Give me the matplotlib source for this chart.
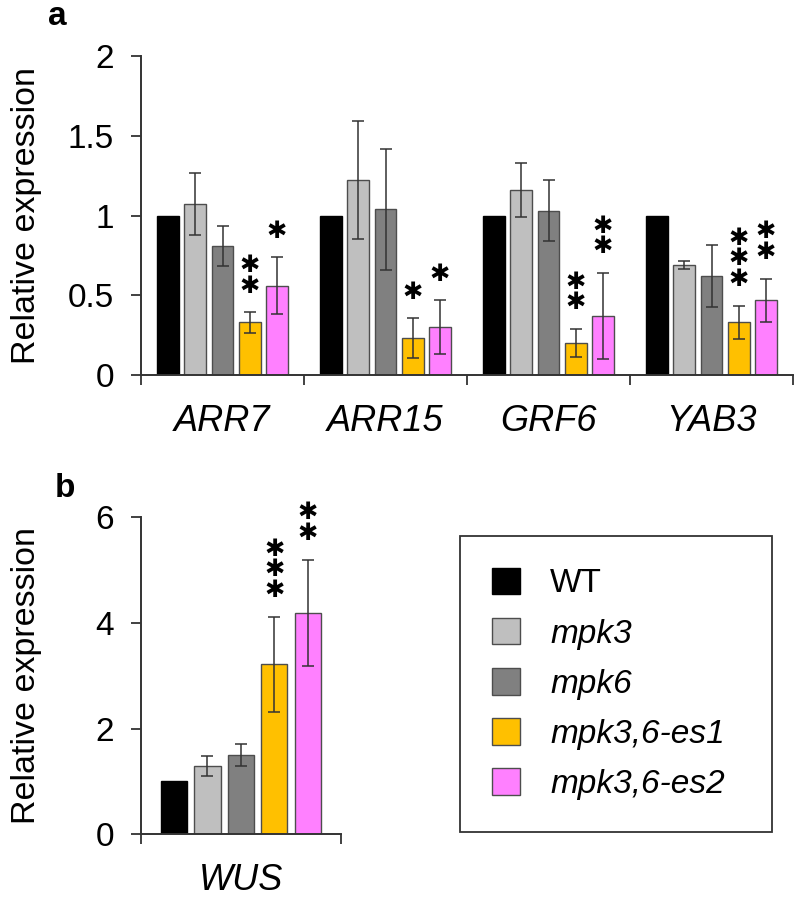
import numpy as np
import matplotlib
matplotlib.use("Agg")
import matplotlib.pyplot as plt
import matplotlib.transforms as mtransforms

plt.rcParams['font.family'] = ['Liberation Sans', 'DejaVu Sans']

# genotypes / colours
genotypes = ['WT', 'mpk3', 'mpk6', 'mpk3,6-es1', 'mpk3,6-es2']
colors = ['#000000', '#BFBFBF', '#808080', '#FFC000', '#FF80FF']

# panel a
genes_a = ['ARR7', 'ARR15', 'GRF6', 'YAB3']
means_a = [[1.0, 1.07, 0.81, 0.33, 0.56],
           [1.0, 1.22, 1.04, 0.23, 0.30],
           [1.0, 1.16, 1.03, 0.20, 0.37],
           [1.0, 0.69, 0.62, 0.33, 0.47]]
errs_a = [[0.0, 0.195, 0.125, 0.065, 0.18],
          [0.0, 0.37, 0.38, 0.125, 0.17],
          [0.0, 0.17, 0.19, 0.09, 0.27],
          [0.0, 0.023, 0.195, 0.105, 0.135]]
stars_a = [[0, 0, 0, 2, 1],
           [0, 0, 0, 1, 1],
           [0, 0, 0, 2, 2],
           [0, 0, 0, 3, 2]]

# panel b
genes_b = ['WUS']
means_b = [[1.0, 1.29, 1.50, 3.22, 4.19]]
errs_b = [[0.0, 0.185, 0.20, 0.90, 1.01]]
stars_b = [[0, 0, 0, 3, 2]]

step = 0.1675
width = 0.132


def draw_panel(ax, genes, means, errs, stars, ymax, yticks, yticklabels):
    means = np.array(means)
    errs = np.array(errs)
    x = np.arange(len(genes))
    bars = []
    for i in range(len(genotypes)):
        xi = x + (i - 2) * step
        ec = colors[i] if i == 0 else '#4d4d4d'
        b = ax.bar(xi, means[:, i], width, color=colors[i], edgecolor=ec,
                   linewidth=1.0, label=genotypes[i], zorder=2)
        bars.append(b)
        has_err = errs[:, i] > 0
        ax.errorbar(xi[has_err], means[has_err, i], yerr=errs[has_err, i],
                    fmt='none', ecolor='#333333', elinewidth=1.1,
                    capsize=4, capthick=1.1, zorder=3)
        for g in range(len(genes)):
            n = stars[g][i]
            if n == 0:
                continue
            top = means[g, i] + errs[g, i]
            # stacked asterisks as one text, one per line
            ax.annotate('\n'.join(['✱'] * n), xy=(xi[g], top), xytext=(0, 14),
                        textcoords='offset points', ha='center',
                        va='baseline', fontsize=17.5, linespacing=0.83,
                        family='DejaVu Sans')
    ax.set_xlim(-0.5, len(genes) - 0.5)
    ax.set_ylim(0, ymax)
    ax.set_yticks(yticks)
    ax.set_yticklabels(yticklabels)
    ax.set_xticks(x)
    ax.set_xticklabels(genes, style='italic', fontsize=26)
    ax.set_xticks(np.arange(len(genes) + 1) - 0.5, minor=True)
    ax.tick_params(axis='x', which='major', length=0, pad=21)
    ax.tick_params(axis='x', which='minor', length=7, width=1.3,
                   direction='out', color='#333333')
    ax.tick_params(axis='y', length=7.5, width=1.3, pad=12, labelsize=24,
                   color='#333333')
    for s in ['top', 'right']:
        ax.spines[s].set_visible(False)
    for s in ['left', 'bottom']:
        ax.spines[s].set_linewidth(1.4)
        ax.spines[s].set_color('#333333')
    ax.set_ylabel('Relative expression', fontsize=24.5)
    trans = mtransforms.blended_transform_factory(fig.transFigure, ax.transAxes)
    ax.yaxis.set_label_coords(0.052, 0.5, transform=trans)
    return bars


fig = plt.figure(figsize=(8, 8.97), dpi=100)
ax_a = fig.add_axes([0.17625, 0.5819, 0.815, 0.3557])
ax_b = fig.add_axes([0.17625, 0.0699, 0.2496, 0.3534])

draw_panel(ax_a, genes_a, means_a, errs_a, stars_a, 2,
           [0, 0.5, 1, 1.5, 2], ['0', '0.5', '1', '1.5', '2'])
bars = draw_panel(ax_b, genes_b, means_b, errs_b, stars_b, 6,
                  [0, 2, 4, 6], ['0', '2', '4', '6'])

fig.text(0.060, 0.999, 'a', fontsize=24, fontweight='bold', va='top', ha='left')
fig.text(0.068, 0.473, 'b', fontsize=24, fontweight='bold', va='top', ha='left')

leg = fig.legend(handles=bars, labels=genotypes, loc='upper left',
                 bbox_to_anchor=(0.575, 0.0725, 0.39, 0.33), mode='expand',
                 fontsize=24, frameon=True, fancybox=False, edgecolor='black',
                 borderpad=0.95, labelspacing=0.55, handlelength=0.85,
                 handleheight=0.85, handletextpad=0.9, borderaxespad=0)
leg.get_frame().set_linewidth(1.3)
for t in leg.get_texts()[1:]:
    t.set_fontstyle('italic')

fig.savefig('out.png', dpi=100)
